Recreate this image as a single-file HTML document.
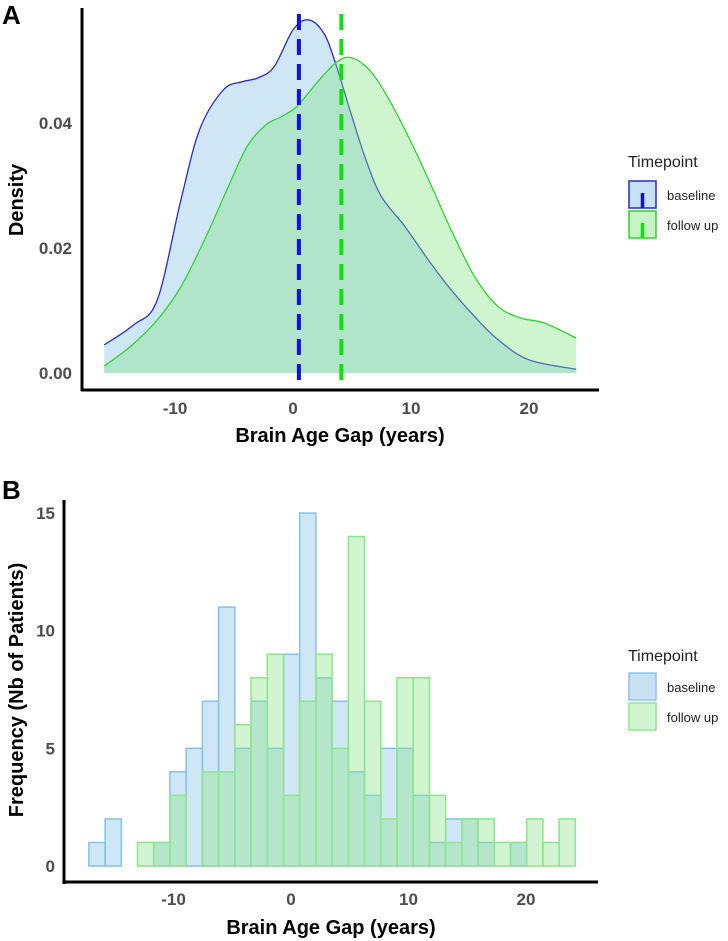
<!DOCTYPE html>
<html><head><meta charset="utf-8"><style>
html,body{margin:0;padding:0;background:#fff;}
svg{display:block;font-family:"Liberation Sans",Arial,sans-serif;}
</style></head><body>
<svg id="chart" width="728" height="941" viewBox="0 0 728 941" xmlns="http://www.w3.org/2000/svg">
<g id="panelA"></g>
<g id="panelB"></g>
</svg>
<script>
// ---- Panel A data (density) ----
const densBaseX = [-16,-13.5,-11.5,-9.5,-7.9,-5.9,-4.3,-3,-1.6,0,1.3,2.6,3.6,4.9,6.2,7.5,9.5,11.5,13.4,15.4,17.4,20,24];
const densBaseY = [0.0045,0.0077,0.0117,0.0277,0.039,0.0453,0.0466,0.0472,0.049,0.0549,0.0565,0.0544,0.0496,0.0416,0.034,0.0282,0.0234,0.018,0.0133,0.009,0.0053,0.0021,0.0006];
const densFollowX = [-16,-13.8,-11.5,-9.5,-7.5,-5.6,-3.9,-2.3,-1,0.3,2,3.6,4.8,6.2,7.5,9.5,11.5,13.4,15.4,17.4,19.3,21.3,24];
const densFollowY = [0.0011,0.0042,0.0085,0.0138,0.0213,0.0293,0.0362,0.0397,0.041,0.0426,0.0464,0.0496,0.0505,0.049,0.0458,0.0389,0.0309,0.0229,0.0154,0.0106,0.0088,0.008,0.0056];
const meanLines = [0.5, 4.1];
const densYTicks = [0, 0.02, 0.04];
const densYTickLabels = ["0.00","0.02","0.04"];
const xTicks = [-10, 0, 10, 20];
const xTickLabels = ["-10","0","10","20"];
// ---- Panel B data (histogram) ----
const binStart = -17.2;
const binWidth = 1.38;
const countsBaseline = [1,2,0,0,1,4,5,7,11,5,7,5,9,15,8,7,4,3,5,5,3,1,2,2,1,0,1,0,0,0];
const countsFollow   = [0,0,0,1,1,3,0,4,4,6,8,9,3,7,9,5,14,7,2,8,8,3,1,2,2,1,1,2,1,2];
const histYTicks = [0,5,10,15];
const histYTickLabels = ["0","5","10","15"];

const NS="http://www.w3.org/2000/svg";
function mk(parent, tag, attrs, text){
  const e=document.createElementNS(NS,tag);
  for(const k in attrs) e.setAttribute(k,attrs[k]);
  if(text!==undefined) e.textContent=text;
  parent.appendChild(e); return e;
}
const xA = v => 293 + v*11.8;
const yA = v => 373 - v*6250;
const xB = v => 291 + v*11.75;
const yB = v => 866 - v*23.53;

function smoothPath(xs, ys, fx, fy){
  const p = xs.map((x,i)=>[fx(x),fy(ys[i])]);
  let d = "M"+p[0][0]+","+p[0][1];
  for(let i=0;i<p.length-1;i++){
    const p0=p[Math.max(0,i-1)],p1=p[i],p2=p[i+1],p3=p[Math.min(p.length-1,i+2)];
    const c1=[p1[0]+(p2[0]-p0[0])/6,p1[1]+(p2[1]-p0[1])/6];
    const c2=[p2[0]-(p3[0]-p1[0])/6,p2[1]-(p3[1]-p1[1])/6];
    d+=" C"+c1[0]+","+c1[1]+" "+c2[0]+","+c2[1]+" "+p2[0]+","+p2[1];
  }
  return d;
}

// ---------- Panel A ----------
const A=document.getElementById('panelA');
let t=mk(A,'text',{x:2,y:24,'font-size':26,'font-weight':'bold',fill:'#000'},'A');


const series=[
  {xs:densBaseX,ys:densBaseY,fill:'rgba(160,205,235,0.5)',stroke:'#2a2ad0',name:'baseline'},
  {xs:densFollowX,ys:densFollowY,fill:'rgba(130,230,130,0.38)',stroke:'#2fd42f',name:'follow-up'}
];
series.forEach(s=>{
  const line=smoothPath(s.xs,s.ys,xA,yA);
  const area=line+" L"+xA(s.xs[s.xs.length-1])+","+yA(0)+" L"+xA(s.xs[0])+","+yA(0)+" Z";
  let a=mk(A,'path',{d:area,fill:s.fill,stroke:'none'});
  
  
  let l=mk(A,'path',{d:line,fill:'none',stroke:s.stroke,'stroke-width':1.3});
  
  
});
const meanColors=['#1010e0','#10e010'];
const meanNames=['mean-line-baseline','mean-line-follow-up'];
meanLines.forEach((m,i)=>{
  let l=mk(A,'line',{x1:xA(m),x2:xA(m),y1:14,y2:390,stroke:meanColors[i],'stroke-width':4,'stroke-dasharray':'16,9'});
  
  
});
let ax=mk(A,'line',{x1:82,y1:8,x2:82,y2:391,stroke:'#000','stroke-width':3});


ax=mk(A,'line',{x1:81,y1:390,x2:599,y2:390,stroke:'#000','stroke-width':3});


densYTicks.forEach((v,i)=>{
  let tl=mk(A,'text',{x:72,y:yA(v)+6,'text-anchor':'end','font-size':17,'font-weight':'bold',fill:'#4d4d4d'},densYTickLabels[i]);
  
  
});
xTicks.forEach((v,i)=>{
  let tl=mk(A,'text',{x:xA(v),y:414,'text-anchor':'middle','font-size':17,'font-weight':'bold',fill:'#4d4d4d'},xTickLabels[i]);
  
  
});
t=mk(A,'text',{x:340,y:442,'text-anchor':'middle','font-size':20,'font-weight':'bold',fill:'#000'},'Brain Age Gap (years)');


t=mk(A,'text',{x:0,y:0,transform:'translate(23,200) rotate(-90)','text-anchor':'middle','font-size':20,'font-weight':'bold',fill:'#000'},'Density');


t=mk(A,'text',{x:628,y:167,'font-size':16,fill:'#222'},'Timepoint');


[['baseline','rgba(160,205,235,0.6)','#2a2ad0','#1010e0'],['follow up','rgba(130,230,130,0.45)','#2fd42f','#10e010']].forEach((d,i)=>{
  const y0=181+i*30;
  let g=mk(A,'g',{});
  
  
  mk(g,'rect',{x:629,y:y0,width:27,height:27,fill:d[1],stroke:d[2],'stroke-width':1.5});
  mk(g,'line',{x1:642.5,x2:642.5,y1:y0+12,y2:y0+27,stroke:d[3],'stroke-width':3.5});
  mk(g,'text',{x:667,y:y0+19,'font-size':13,fill:'#222'},d[0]);
});

// ---------- Panel B ----------
const B=document.getElementById('panelB');
t=mk(B,'text',{x:2,y:499,'font-size':26,'font-weight':'bold',fill:'#000'},'B');


countsBaseline.forEach((c,i)=>{
  if(c<=0) return;
  const x0=xB(binStart+i*binWidth), x1=xB(binStart+(i+1)*binWidth);
  let r=mk(B,'rect',{x:x0,y:yB(c),width:x1-x0,height:yB(0)-yB(c),fill:'rgba(160,205,235,0.5)',stroke:'#8cc4e8','stroke-width':1.6});
  
  
});
countsFollow.forEach((c,i)=>{
  if(c<=0) return;
  const x0=xB(binStart+i*binWidth), x1=xB(binStart+(i+1)*binWidth);
  let r=mk(B,'rect',{x:x0,y:yB(c),width:x1-x0,height:yB(0)-yB(c),fill:'rgba(140,230,140,0.4)',stroke:'#90e690','stroke-width':1.6});
  
  
});
ax=mk(B,'line',{x1:64,y1:500,x2:64,y2:884,stroke:'#000','stroke-width':3});


ax=mk(B,'line',{x1:63,y1:882,x2:598,y2:882,stroke:'#000','stroke-width':3});


histYTicks.forEach((v,i)=>{
  let tl=mk(B,'text',{x:55,y:yB(v)+6,'text-anchor':'end','font-size':17,'font-weight':'bold',fill:'#4d4d4d'},histYTickLabels[i]);
  
  
});
xTicks.forEach((v,i)=>{
  let tl=mk(B,'text',{x:xB(v),y:905,'text-anchor':'middle','font-size':17,'font-weight':'bold',fill:'#4d4d4d'},xTickLabels[i]);
  
  
});
t=mk(B,'text',{x:331,y:934,'text-anchor':'middle','font-size':20,'font-weight':'bold',fill:'#000'},'Brain Age Gap (years)');


t=mk(B,'text',{x:0,y:0,transform:'translate(23,690) rotate(-90)','text-anchor':'middle','font-size':20,'font-weight':'bold',fill:'#000'},'Frequency (Nb of Patients)');


t=mk(B,'text',{x:628,y:661,'font-size':16,fill:'#222'},'Timepoint');


[['baseline','rgba(160,205,235,0.6)','#8cc4e8'],['follow up','rgba(140,230,140,0.4)','#90e690']].forEach((d,i)=>{
  const y0=673+i*30;
  let g=mk(B,'g',{});
  
  
  mk(g,'rect',{x:629,y:y0,width:27,height:27,fill:d[1],stroke:d[2],'stroke-width':1.5});
  mk(g,'text',{x:667,y:y0+19,'font-size':13,fill:'#222'},d[0]);
});
</script>
</body></html>
